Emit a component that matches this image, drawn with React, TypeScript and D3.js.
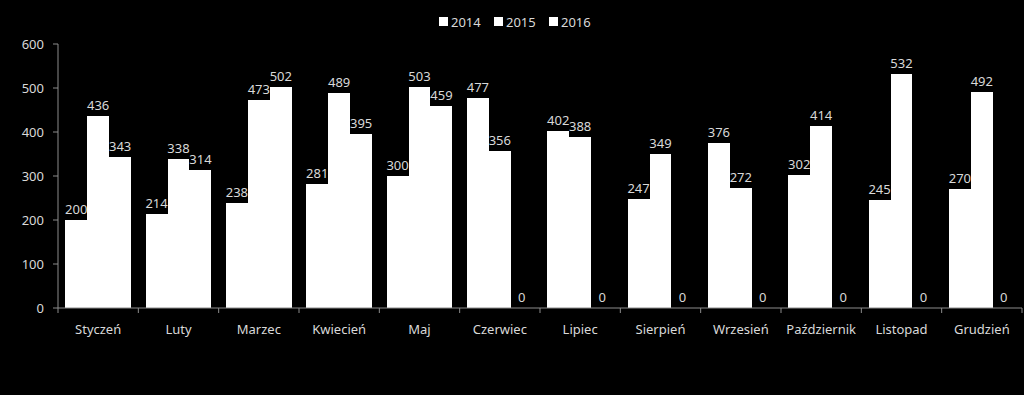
import React from "react";
import * as d3 from "d3";

const months = ["Styczeń", "Luty", "Marzec", "Kwiecień", "Maj", "Czerwiec", "Lipiec", "Sierpień", "Wrzesień", "Październik", "Listopad", "Grudzień"];
const years = ["2014", "2015", "2016"];
const v2014 = [200, 214, 238, 281, 300, 477, 402, 247, 376, 302, 245, 270];
const v2015 = [436, 338, 473, 489, 503, 356, 388, 349, 272, 414, 532, 492];
const v2016 = [343, 314, 502, 395, 459, 0, 0, 0, 0, 0, 0, 0];
const yTicks = [0, 100, 200, 300, 400, 500, 600];

const W = 1024;
const H = 395;
const margin = { left: 58, right: 2, top: 44, bottom: 87 };
const font = "Noto Sans, sans-serif";

export default function App() {
  const series = [v2014, v2015, v2016];
  const x0 = d3
    .scaleBand<string>()
    .domain(months)
    .range([margin.left, W - margin.right])
    .paddingInner(0.18)
    .paddingOuter(0.09);
  const x1 = d3.scaleBand<string>().domain(years).range([0, x0.bandwidth()]);
  const y = d3.scaleLinear().domain([0, 600]).range([H - margin.bottom, margin.top]);
  const step = x0.step();
  const base = y(0);
  const boundaries = d3.range(months.length + 1).map((i) => margin.left + i * step);

  return (
    <svg width={W} height={H} style={{ position: "absolute", left: 0, top: 0, background: "#000" }}>
      <rect x={0} y={0} width={W} height={H} fill="#000" />
      {/* legend */}
      <g fontFamily={font} fontSize={13} fill="#d9d9d9">
        {years.map((yr, i) => (
          <g key={yr} transform={`translate(${439 + i * 55},0)`}>
            <rect x={0} y={17} width={9} height={9} fill="#fff" />
            <text x={12} y={26.5}>{yr}</text>
          </g>
        ))}
      </g>
      {/* bars: one white block per month, with each series' step drawn separately */}
      {months.map((m, i) => (
        <g key={m}>
          {series.map((s, j) => {
            const bx = Math.round((x0(m) as number) + (x1(years[j]) as number));
            const bx2 = Math.round((x0(m) as number) + (x1(years[j]) as number) + x1.bandwidth());
            return <rect key={j} x={bx} y={y(s[i])} width={bx2 - bx} height={base - y(s[i])} fill="#fff" shapeRendering="crispEdges" />;
          })}
        </g>
      ))}
      {/* y axis */}
      <line x1={margin.left} x2={margin.left} y1={y(600)} y2={base} stroke="#8c8c8c" />
      {yTicks.map((t) => (
        <g key={t}>
          <line x1={margin.left - 5} x2={margin.left} y1={y(t)} y2={y(t)} stroke="#8c8c8c" />
          <text x={margin.left - 14} y={y(t) + 4.5} textAnchor="end" fontFamily={font} fontSize={13} fill="#d9d9d9">
            {t}
          </text>
        </g>
      ))}
      {/* x axis */}
      <line x1={margin.left} x2={W - margin.right} y1={base} y2={base} stroke="#8c8c8c" />
      {boundaries.map((b, i) => (
        <line key={i} x1={b} x2={b} y1={base} y2={base + 5} stroke="#8c8c8c" />
      ))}
      {months.map((m) => (
        <text key={m} x={(x0(m) as number) + x0.bandwidth() / 2} y={base + 26} textAnchor="middle" fontFamily={font} fontSize={13} fill="#d9d9d9">
          {m}
        </text>
      ))}
      {/* value labels */}
      {months.map((m, i) => (
        <g key={m} transform={`translate(${x0(m)},0)`}>
          {series.map((s, j) => (
            <text
              key={j}
              x={(x1(years[j]) as number) + x1.bandwidth() / 2}
              y={y(s[i]) - 6}
              textAnchor="middle"
              fontFamily={font}
              fontSize={13}
              fill="#d9d9d9"
            >
              {s[i]}
            </text>
          ))}
        </g>
      ))}
    </svg>
  );
}
